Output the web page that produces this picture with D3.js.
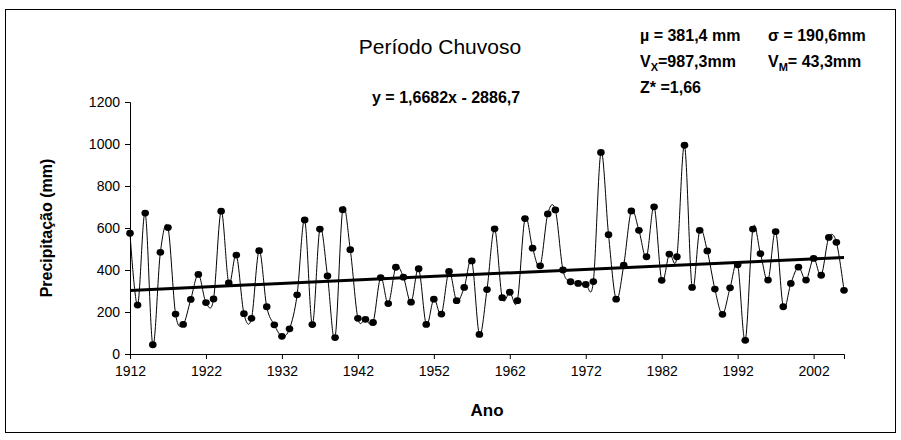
<html>
<script src="https://d3js.org/d3.v7.min.js"></script>
<style>
  body { margin: 0; background: #fff; }
  text { font-family: "Liberation Sans", Arial, sans-serif; }
</style>
<body>
<svg id="chart" width="901" height="440"></svg>

<script>
// anos 1912-2006, precipitação do período chuvoso (mm)
var years = d3.range(1912, 2007);
var precip = [
  575, 233, 671, 44, 484, 602, 190, 141, 260, 379,
  245, 262, 680, 338, 471, 192, 170, 492, 225, 139,
  84, 120, 282, 638, 140, 595, 372, 78, 687, 497,
  170, 165, 150, 364, 240, 413, 366, 247, 406, 141,
  261, 190, 393, 254, 317, 443, 93, 307, 596, 268,
  294, 254, 645, 504, 420, 667, 686, 400, 344, 336,
  331, 345, 960, 568, 261, 423, 681, 589, 463, 701,
  351, 476, 463, 994, 317, 589, 491, 309, 189, 315,
  425, 65, 595, 478, 352, 583, 225, 336, 414, 352,
  455, 375, 555, 532, 303
];
var yTicks = [0, 200, 400, 600, 800, 1000, 1200];
var xTicks = [1912, 1922, 1932, 1942, 1952, 1962, 1972, 1982, 1992, 2002];
var trend = { a: 1.6682, b: -2886.7 };

var data = years.map(function(y, i) { return { ano: y, v: precip[i] }; });

var svg = d3.select("#chart");

// moldura do gráfico
svg.append("rect")
  .attr("x", 5.5).attr("y", 9.5)
  .attr("width", 890).attr("height", 423)
  .attr("fill", "none").attr("stroke", "#000").attr("stroke-width", 1);

var x = d3.scaleLinear().domain([1912, 2006]).range([130, 844]);
var y = d3.scaleLinear().domain([0, 1200]).range([354, 102]);

// eixos
var yAxis = d3.axisLeft(y).tickValues(yTicks).tickSize(5).tickPadding(5)
  .tickFormat(d3.format("d"));
var xAxis = d3.axisBottom(x).tickValues(xTicks).tickSize(5).tickPadding(7)
  .tickFormat(d3.format("d"));

var gy = svg.append("g").attr("transform", "translate(130,0)").call(yAxis);
var gx = svg.append("g").attr("transform", "translate(0,354)").call(xAxis);

[gx, gy].forEach(function(g) {
  g.selectAll("path, line").attr("stroke", "#000");
  g.selectAll("text").attr("font-size", 14).attr("fill", "#000")
    .attr("font-family", "Liberation Sans, Arial, sans-serif");
});

// linha suavizada
var line = d3.line()
  .x(function(d) { return x(d.ano); })
  .y(function(d) { return y(d.v); })
  .curve(d3.curveCardinal.tension(0));

svg.append("path")
  .datum(data)
  .attr("d", line)
  .attr("fill", "none")
  .attr("stroke", "#000")
  .attr("stroke-width", 1);

// linha de tendência
svg.append("line")
  .attr("x1", x(1912)).attr("y1", y(trend.a * 1912 + trend.b))
  .attr("x2", x(2006)).attr("y2", y(trend.a * 2006 + trend.b))
  .attr("stroke", "#000").attr("stroke-width", 3);

// marcadores
svg.selectAll("ellipse.pt")
  .data(data)
  .enter().append("ellipse")
  .attr("class", "pt")
  .attr("cx", function(d) { return x(d.ano); })
  .attr("cy", function(d) { return y(d.v); })
  .attr("rx", 3.8).attr("ry", 3.4)
  .attr("fill", "#000");

// títulos
svg.append("text")
  .attr("x", 440).attr("y", 54)
  .attr("text-anchor", "middle")
  .attr("font-size", 21)
  .text("Período Chuvoso");

svg.append("text")
  .attr("x", 372).attr("y", 103)
  .attr("font-size", 16).attr("font-weight", "bold")
  .text("y = 1,6682x - 2886,7");

// caixa de estatísticas (duas colunas)
var col1 = 640, col2 = 768;
var stats = svg.append("g").attr("font-size", 16).attr("font-weight", "bold");

stats.append("text").attr("x", col1).attr("y", 41).text("\u00b5 = 381,4 mm");
stats.append("text").attr("x", col2).attr("y", 41).text("\u03c3 = 190,6mm");

var vx = stats.append("text").attr("x", col1).attr("y", 67);
vx.append("tspan").text("V");
vx.append("tspan").attr("font-size", 11).attr("dy", 4).text("X");
vx.append("tspan").attr("dy", -4).text("=987,3mm");

var vm = stats.append("text").attr("x", col2).attr("y", 67);
vm.append("tspan").text("V");
vm.append("tspan").attr("font-size", 11).attr("dy", 4).text("M");
vm.append("tspan").attr("dy", -4).text("= 43,3mm");

stats.append("text").attr("x", col1).attr("y", 93).text("Z* =1,66");

// rótulos dos eixos
svg.append("text")
  .attr("x", 487).attr("y", 416)
  .attr("text-anchor", "middle")
  .attr("font-size", 17).attr("font-weight", "bold")
  .text("Ano");

svg.append("text")
  .attr("transform", "translate(52,228) rotate(-90)")
  .attr("text-anchor", "middle")
  .attr("font-size", 16).attr("font-weight", "bold")
  .text("Precipitação (mm)");
</script>
</body>
</html>
